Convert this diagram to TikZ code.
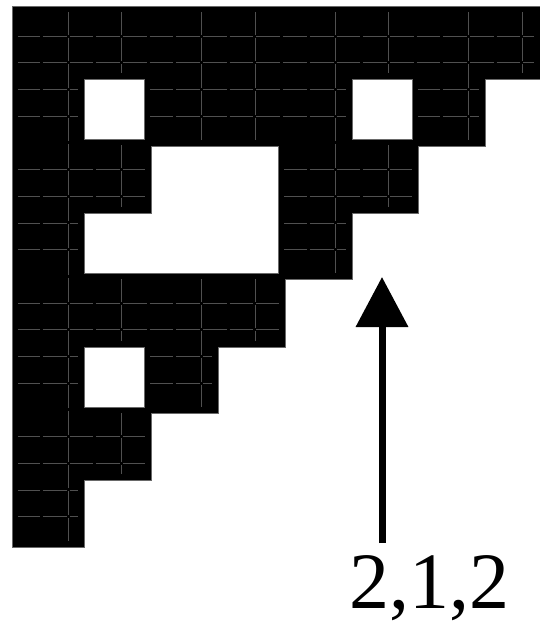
\documentclass[tikz,border=0pt]{standalone}
\usepackage{fontspec}
\setmainfont{Liberation Serif}
\usetikzlibrary{arrows.meta}
\begin{document}
\begin{tikzpicture}[x=1pt,y=-1pt,
  fineline/.style={draw={rgb,255:red,80;green,80;blue,80}, line width=0.8pt, dash pattern=on 23.7pt off 3pt},
  edgeline/.style={draw={rgb,255:red,105;green,105;blue,105}, line width=0.7pt},
  insetline/.style={draw=black, line width=12pt},
  arrowline/.style={line width=7pt, -{Triangle[length=50pt,width=51pt]}}]
\useasboundingbox (0,0) rectangle (540,621);
% black staircase
\fill[black] (12,6) -- (540,6) -- (540,79) -- (485,79) -- (485,146) -- (418,146) -- (418,213) -- (352,213) -- (352,279) -- (285,279) -- (285,347) -- (218,347) -- (218,413) -- (151,413) -- (151,480) -- (84,480) -- (84,547) -- (12,547) -- cycle;
\begin{scope}
  \clip (12,6) -- (540,6) -- (540,79) -- (485,79) -- (485,146) -- (418,146) -- (418,213) -- (352,213) -- (352,279) -- (285,279) -- (285,347) -- (218,347) -- (218,413) -- (151,413) -- (151,480) -- (84,480) -- (84,547) -- (12,547) -- cycle;
  % faint fine grid
  \foreach \k in {0,...,18} {
    \pgfmathtruncatemacro\m{mod(\k,5)}
    \ifnum\m=4 \else
      \draw[fineline] (16.1,{36+26.7*\k}) -- (540,{36+26.7*\k});
    \fi
  }
  \foreach \x in {68,121.4,201.5,254.9,335,388.4,468.5,521.9}
    \draw[fineline] (\x,10.8) -- (\x,547);
  % keep grid away from the edges
  \draw[insetline] (12,6) -- (540,6) -- (540,79) -- (485,79) -- (485,146) -- (418,146) -- (418,213) -- (352,213) -- (352,279) -- (285,279) -- (285,347) -- (218,347) -- (218,413) -- (151,413) -- (151,480) -- (84,480) -- (84,547) -- (12,547) -- cycle;
  \draw[insetline] (84,79) rectangle (144,139);
  \draw[insetline] (352,79) rectangle (412,139);
  \draw[insetline] (84,347) rectangle (144,407);
  \draw[insetline] (151,146) -- (278,146) -- (278,273) -- (84,273) -- (84,213) -- (151,213) -- cycle;
\end{scope}
% white holes
\fill[white] (84,79) rectangle (144,139);
\fill[white] (352,79) rectangle (412,139);
\fill[white] (84,347) rectangle (144,407);
\fill[white] (151,146) -- (278,146) -- (278,273) -- (84,273) -- (84,213) -- (151,213) -- cycle;
% edges
\draw[edgeline] (12,6) -- (540,6) -- (540,79) -- (485,79) -- (485,146) -- (418,146) -- (418,213) -- (352,213) -- (352,279) -- (285,279) -- (285,347) -- (218,347) -- (218,413) -- (151,413) -- (151,480) -- (84,480) -- (84,547) -- (12,547) -- cycle;
\draw[edgeline] (84,79) rectangle (144,139);
\draw[edgeline] (352,79) rectangle (412,139);
\draw[edgeline] (84,347) rectangle (144,407);
\draw[edgeline] (151,146) -- (278,146) -- (278,273) -- (84,273) -- (84,213) -- (151,213) -- cycle;
% arrow and label
\coordinate (tail) at (382,543);
\coordinate (tip) at (382,277);
\draw[arrowline] (tail) -- (tip);
\node[anchor=base west, inner sep=0pt, text depth=0pt, font=\fontsize{80}{80}\selectfont] (lbl) at (349,608) {2,1,2};
\end{tikzpicture}
\end{document}
